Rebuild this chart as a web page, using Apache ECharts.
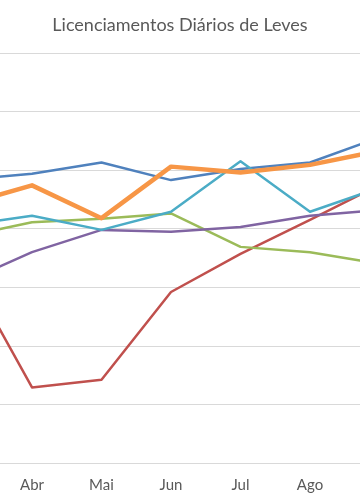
<!DOCTYPE html>
<html>
<head>
<meta charset="utf-8">
<script src="https://cdn.jsdelivr.net/npm/echarts@6/dist/echarts.min.js"></script>
<style>
html,body{margin:0;padding:0;background:#fff;overflow:hidden;width:360px;height:504px;}
#wrap{position:relative;width:360px;height:504px;overflow:hidden;}
#c{position:absolute;left:-80px;top:0;width:520px;height:504px;}
</style>
</head>
<body>
<div id="wrap"><div id="c"></div></div>
<script>
// Months (Mar and Set fall just outside the visible crop)
var categories = ['Mar', 'Abr', 'Mai', 'Jun', 'Jul', 'Ago', 'Set'];
// Values (arbitrary units, gridline step = 1000)
var serieAzul    = [4830, 4940, 5130, 4830, 5020, 5130, 5560];
var serieVermelha= [3430, 1290, 1420, 2920, 3570, 4150, 4750];
var serieVerde   = [3860, 4110, 4170, 4260, 3690, 3600, 3400];
var serieRoxa    = [3070, 3600, 3980, 3950, 4030, 4220, 4320];
var serieCiano   = [4050, 4220, 3980, 4290, 5150, 4290, 4700];
var serieLaranja = [4400, 4740, 4180, 5060, 4960, 5090, 5330];
var yTicks = [0, 1000, 2000, 3000, 4000, 5000, 6000, 7000];

var chart = echarts.init(document.getElementById('c'), null, {renderer: 'canvas'});
function mk(data, color, w) {
  return {
    type: 'line', data: data, symbol: 'none', smooth: false,
    lineStyle: {color: color, width: w, cap: 'round', join: 'round'},
    itemStyle: {color: color}, animation: false
  };
}
chart.setOption({
  animation: false,
  title: {
    text: 'Licenciamentos Diários de Leves',
    left: 'center', top: 11,
    textStyle: {fontFamily: 'Lato', fontSize: 18, fontWeight: 'normal', color: '#595959'}
  },
  grid: {left: 7.75, right: 25.75, top: 53, bottom: 41, containLabel: false},
  xAxis: {
    type: 'category', data: categories, boundaryGap: true,
    axisLine: {lineStyle: {color: '#D9D9D9', width: 1}},
    axisTick: {show: false},
    axisLabel: {fontFamily: 'Lato', fontSize: 15, color: '#595959', margin: 15}
  },
  yAxis: {
    type: 'value', min: yTicks[0], max: yTicks[yTicks.length - 1], interval: 1000,
    axisLabel: {show: false}, axisLine: {show: false}, axisTick: {show: false},
    splitLine: {lineStyle: {color: '#D9D9D9', width: 1}}
  },
  series: [
    mk(serieAzul, '#4F81BD', 2.5),
    mk(serieVermelha, '#C0504D', 2.5),
    mk(serieVerde, '#9BBB59', 2.5),
    mk(serieRoxa, '#8064A2', 2.5),
    mk(serieCiano, '#4BACC6', 2.5),
    mk(serieLaranja, '#F79646', 4.5)
  ]
});
</script>
</body>
</html>
